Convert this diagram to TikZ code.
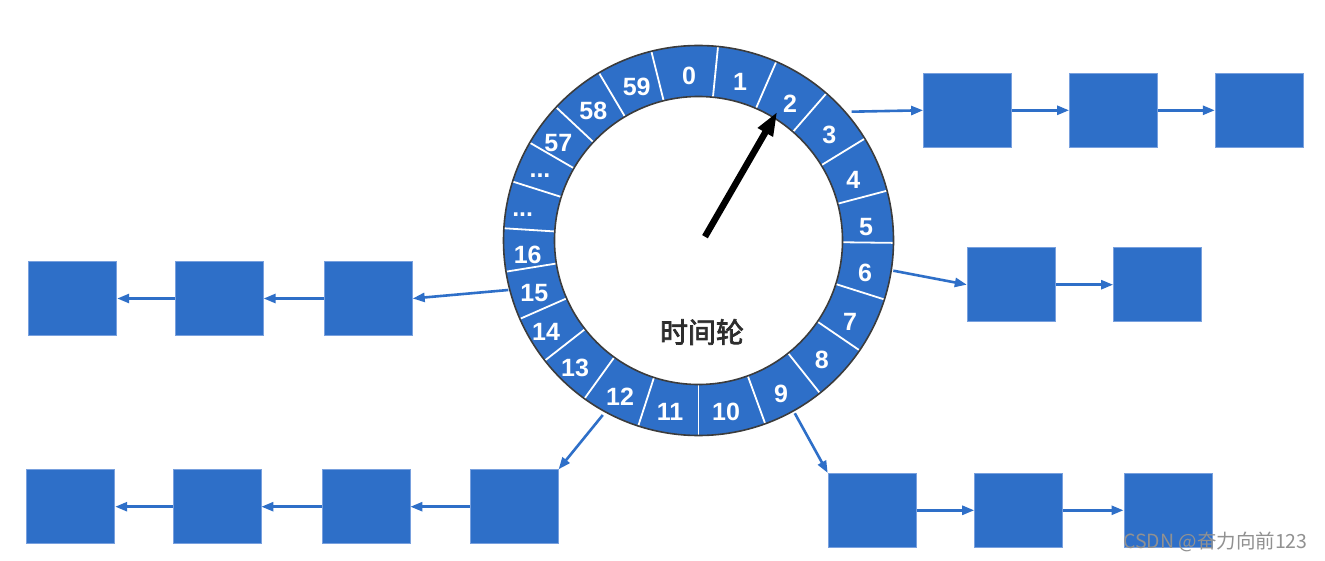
\documentclass[tikz,border=0pt]{standalone}
\usepackage{fontspec}
\setmainfont{Liberation Sans}
\newfontfamily\cjkfont{Noto Sans CJK SC}
\newfontfamily\cjkmid[FakeBold=2.5]{Noto Sans CJK SC}
\usetikzlibrary{arrows.meta,calc}
\definecolor{boxblue}{RGB}{46,111,200}
\definecolor{boxedge}{RGB}{120,160,222}
\definecolor{ringedge}{RGB}{60,60,60}
\definecolor{titlegray}{RGB}{45,45,45}
\definecolor{wmgray}{RGB}{145,145,145}
\begin{document}
\begin{tikzpicture}[x=1pt,y=-1pt,
  blk/.style={rectangle, fill=boxblue, draw=boxedge, line width=0.8pt,
    minimum width=88pt, minimum height=74pt, inner sep=0pt},
  lnk/.style={draw=boxblue, line width=2.6pt, -{Triangle[length=12pt,width=9pt]}},
  num/.style={text=white, font=\bfseries\fontsize{25}{25}\selectfont, inner sep=0pt},
  dots/.style={text=white, font=\bfseries\fontsize{25}{25}\selectfont, inner sep=0pt, anchor=base},
  divider/.style={white, line width=1.8pt},
  ringline/.style={ringedge, line width=1.6pt},
  pointer/.style={black, line width=6.5pt, -{Triangle[length=24pt,width=16pt]}},
]
\useasboundingbox (0,0) rectangle (1325,561);
\fill[white] (0,0) rectangle (1325,561);

% ---- wheel ----
\coordinate (c) at (698.5,240.5);
\fill[boxblue, even odd rule] (c) circle[radius=195] (c) circle[radius=144];
\foreach \t in {-104,-84.25,-66.5,-49,-31.5,-14.8,0.7,17.6,34.3,51.5,70,90,108,125.8,142,156.3,170.8,183.6,197.6,210.1,223.1,239.3}
  \draw[divider] ($(c)+(\t:144)$) -- ($(c)+(\t:195)$);
\draw[ringline] (c) circle[radius=195];
\draw[ringline] (c) circle[radius=144];

\foreach \l/\x/\y in {0/689/76, 1/740/81.7, 2/790/103.3, 3/829.3/135, 4/853.3/180,
  5/866/226.7, 6/865/273.3, 7/850/321.7, 8/821.7/360, 9/781/394, 10/726/411.7,
  11/670/411.7, 12/620/396.7, 13/575/368.3, 14/546/331.7, 15/534.3/293.3,
  16/527.7/255, 57/558.3/142.7, 58/593.3/110.7, 59/636.7/86.7}
  \node[num] (n\l) at (\x,\y) {\l};
\node[dots] (dotsA) at (522.7,216.5) {...};
\node[dots] (dotsB) at (540,177.5) {...};

\node[font=\cjkmid\fontsize{28}{28}\selectfont, text=titlegray, inner sep=0pt] (title) at (702,332) {时间轮};

% pointer
\coordinate (ptail) at (705,236.7);
\coordinate (ptip) at (777.3,111.7);
\draw[pointer] (ptail) -- (ptip);

% ---- boxes ----
\node[blk] (a1) at (967.5,110.3) {};
\node[blk] (a2) at (1113.5,110.3) {};
\node[blk] (a3) at (1259.2,110.3) {};

\node[blk] (b1) at (1011.2,284.7) {};
\node[blk] (b2) at (1157.5,284.7) {};

\node[blk] (e1) at (72.8,298.5) {};
\node[blk] (e2) at (219.2,298.5) {};
\node[blk] (e3) at (368.3,298.5) {};

\node[blk] (d1) at (70.8,506.7) {};
\node[blk] (d2) at (217,506.7) {};
\node[blk] (d3) at (366,506.7) {};
\node[blk] (d4) at (514.2,506.7) {};

\node[blk] (f1) at (872.1,510.3) {};
\node[blk] (f2) at (1018.6,510.3) {};
\node[blk] (f3) at (1167.9,510.3) {};

% ---- ring attachment points ----
\coordinate (rA) at (851.7,111.7);
\coordinate (rB) at (893.3,270.7);
\coordinate (rE) at (508.3,290);
\coordinate (rD) at (602.8,415);
\coordinate (rF) at (794.8,413.3);

% ---- connectors ----
\draw[lnk] (rA) -- (a1.west);
\draw[lnk] (a1.east) -- (a2.west);
\draw[lnk] (a2.east) -- (a3.west);

\draw[lnk] (rB) -- (b1.west);
\draw[lnk] (b1.east) -- (b2.west);

\draw[lnk] (rE) -- (e3.east);
\draw[lnk] (e3.west) -- (e2.east);
\draw[lnk] (e2.west) -- (e1.east);

\draw[lnk] (rD) -- (d4.north east);
\draw[lnk] (d4.west) -- (d3.east);
\draw[lnk] (d3.west) -- (d2.east);
\draw[lnk] (d2.west) -- (d1.east);

\draw[lnk] (rF) -- (f1.north west);
\draw[lnk] (f1.east) -- (f2.west);
\draw[lnk] (f2.east) -- (f3.west);

% watermark
\node[anchor=west, font=\cjkfont\fontsize{19.5}{19.5}\selectfont, text=wmgray, inner sep=0pt] (wm) at (1123,542) {CSDN @奋力向前123};
\end{tikzpicture}
\end{document}
